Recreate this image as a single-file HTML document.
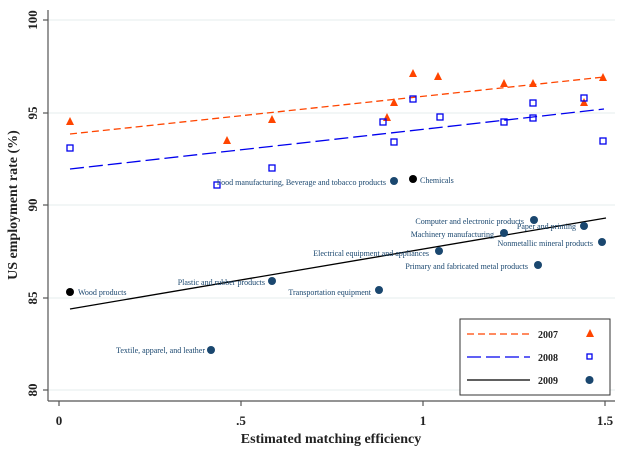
<!DOCTYPE html>
<html><head><meta charset="utf-8"><style>
body{margin:0;background:#fff;}
svg{display:block;font-family:"Liberation Serif",serif;}
.l{font-size:8px;fill:#1a476f;}
</style></head><body>
<svg width="622" height="451" viewBox="0 0 622 451">
<rect width="622" height="451" fill="#fff"/>
<g stroke="#e4ecec" stroke-width="1">
<line x1="48" y1="20" x2="615" y2="20"/>
<line x1="48" y1="113" x2="615" y2="113"/>
<line x1="48" y1="205" x2="615" y2="205"/>
<line x1="48" y1="298" x2="615" y2="298"/>
<line x1="48" y1="390" x2="615" y2="390"/>
</g>
<g stroke="#555" stroke-width="1.2">
<line x1="48" y1="10" x2="48" y2="401"/>
<line x1="48" y1="401" x2="615" y2="401"/>
<line x1="43" y1="20" x2="48" y2="20"/>
<line x1="43" y1="113" x2="48" y2="113"/>
<line x1="43" y1="205" x2="48" y2="205"/>
<line x1="43" y1="298" x2="48" y2="298"/>
<line x1="43" y1="390" x2="48" y2="390"/>
<line x1="59" y1="401" x2="59" y2="406"/>
<line x1="241" y1="401" x2="241" y2="406"/>
<line x1="423" y1="401" x2="423" y2="406"/>
<line x1="605" y1="401" x2="605" y2="406"/>
</g>
<g font-size="13" font-weight="bold" fill="#222">
<text transform="translate(37,20) rotate(-90)" text-anchor="middle">100</text>
<text transform="translate(37,113) rotate(-90)" text-anchor="middle">95</text>
<text transform="translate(37,205) rotate(-90)" text-anchor="middle">90</text>
<text transform="translate(37,298) rotate(-90)" text-anchor="middle">85</text>
<text transform="translate(37,390) rotate(-90)" text-anchor="middle">80</text>
<text x="59" y="425" text-anchor="middle">0</text>
<text x="241" y="425" text-anchor="middle">.5</text>
<text x="423" y="425" text-anchor="middle">1</text>
<text x="605" y="425" text-anchor="middle">1.5</text>
<text x="331" y="443" text-anchor="middle" font-size="14">Estimated matching efficiency</text>
<text transform="translate(17,205) rotate(-90)" text-anchor="middle" font-size="14">US employment rate (%)</text>
</g>
<line x1="70" y1="134" x2="604" y2="77" stroke="#ff4500" stroke-width="1.3" stroke-dasharray="7,4"/>
<line x1="70" y1="169" x2="604" y2="109" stroke="#0000ee" stroke-width="1.3" stroke-dasharray="14,5"/>
<line x1="70" y1="309" x2="606" y2="218" stroke="#000" stroke-width="1.3"/>
<g fill="#ff4500">
<polygon points="70,117 74,125 66,125"/>
<polygon points="227,136 231,144 223,144"/>
<polygon points="272,115 276,123 268,123"/>
<polygon points="387,113 391,121 383,121"/>
<polygon points="394,98 398,106 390,106"/>
<polygon points="413,69 417,77 409,77"/>
<polygon points="438,72 442,80 434,80"/>
<polygon points="504,79 508,87 500,87"/>
<polygon points="533,79 537,87 529,87"/>
<polygon points="584,98 588,106 580,106"/>
<polygon points="603,73 607,81 599,81"/>
</g>
<g fill="none" stroke="#0000ee" stroke-width="1.3">
<rect x="67" y="145" width="6" height="6"/>
<rect x="214" y="182" width="6" height="6"/>
<rect x="269" y="165" width="6" height="6"/>
<rect x="380" y="119" width="6" height="6"/>
<rect x="391" y="139" width="6" height="6"/>
<rect x="410" y="96" width="6" height="6"/>
<rect x="437" y="114" width="6" height="6"/>
<rect x="501" y="119" width="6" height="6"/>
<rect x="530" y="115" width="6" height="6"/>
<rect x="530" y="100" width="6" height="6"/>
<rect x="581" y="95" width="6" height="6"/>
<rect x="600" y="138" width="6" height="6"/>
</g>
<g fill="#1a476f">
<circle cx="211" cy="350" r="4"/>
<circle cx="272" cy="281" r="4"/>
<circle cx="379" cy="290" r="4"/>
<circle cx="394" cy="181" r="4"/>
<circle cx="439" cy="251" r="4"/>
<circle cx="504" cy="233" r="4"/>
<circle cx="534" cy="220" r="4"/>
<circle cx="538" cy="265" r="4"/>
<circle cx="584" cy="226" r="4"/>
<circle cx="602" cy="242" r="4"/>
</g>
<circle cx="70" cy="292" r="4" fill="#000"/>
<circle cx="413" cy="179" r="4" fill="#000"/>
<text class="l" x="78" y="295">Wood products</text>
<text class="l" x="205" y="353" text-anchor="end">Textile, apparel, and leather</text>
<text class="l" x="265" y="285" text-anchor="end">Plastic and rubber products</text>
<text class="l" x="371" y="295" text-anchor="end">Transportation equipment</text>
<text class="l" x="386" y="185" text-anchor="end">Food manufacturing, Beverage and tobacco products</text>
<text class="l" x="420" y="183">Chemicals</text>
<text class="l" x="429" y="256" text-anchor="end">Electrical equipment and appliances</text>
<text class="l" x="494" y="237" text-anchor="end">Machinery manufacturing</text>
<text class="l" x="524" y="224" text-anchor="end">Computer and electronic products</text>
<text class="l" x="576" y="229" text-anchor="end">Paper and printing</text>
<text class="l" x="593" y="246" text-anchor="end">Nonmetallic mineral products</text>
<text class="l" x="528" y="269" text-anchor="end">Primary and fabricated metal products</text>
<rect x="460" y="319" width="150" height="76" fill="#fff" stroke="#333" stroke-width="1"/>
<line x1="467" y1="334" x2="530" y2="334" stroke="#ff4500" stroke-width="1.3" stroke-dasharray="7,4"/>
<line x1="467" y1="357" x2="530" y2="357" stroke="#0000ee" stroke-width="1.3" stroke-dasharray="14,5"/>
<line x1="467" y1="380" x2="530" y2="380" stroke="#000" stroke-width="1.3"/>
<g font-size="10" fill="#222" font-weight="bold">
<text x="538" y="338">2007</text>
<text x="538" y="361">2008</text>
<text x="538" y="384">2009</text>
</g>
<polygon points="590,329 594,337 586,337" fill="#ff4500"/>
<rect x="587" y="354" width="5" height="5" fill="none" stroke="#0000ee" stroke-width="1.3"/>
<circle cx="589.5" cy="380" r="4" fill="#1a476f"/>
</svg>
</body></html>
